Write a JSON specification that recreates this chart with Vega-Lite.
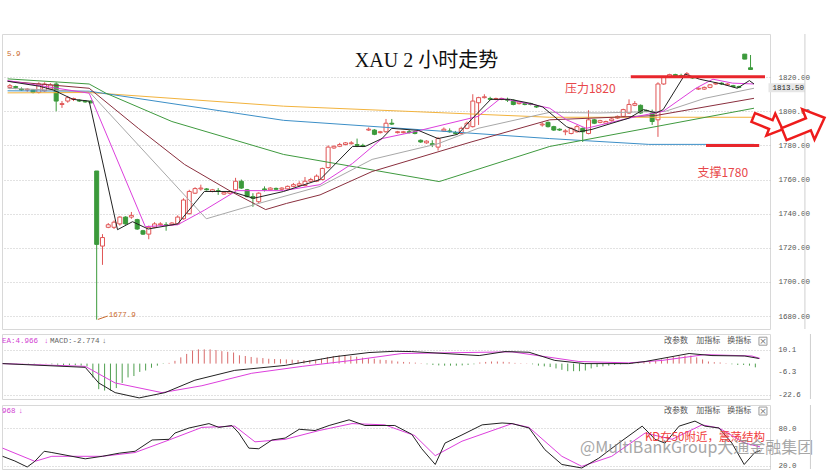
{
"$schema":"https://vega.github.io/schema/vega-lite/v6.json",
"padding":{"left":0,"top":33,"right":0,"bottom":0},
"background":"white",
"spacing":3,
"config":{"view":{"stroke":"#d8d8d8"},"axis":{"domain":false,"ticks":false,"gridDash":[1,2],"gridColor":"#c4c4c4","labelFont":"Liberation Mono","labelFontSize":7.5,"labelColor":"#555","labelPadding":8,"labelOverlap":false,"title":null}},
"datasets":{
"candles":[
{"i":0,"o":1814,"c":1815,"h":1816,"l":1813},{"i":1,"o":1814.5,"c":1814,"h":1815,"l":1813},{"i":2,"o":1813,"c":1812.5,"h":1814,"l":1812},{"i":3,"o":1812.5,"c":1813,"h":1813.5,"l":1811.5},{"i":4,"o":1812.5,"c":1811,"h":1813,"l":1810.5},{"i":5,"o":1811,"c":1816,"h":1817,"l":1810.5},{"i":6,"o":1812,"c":1816,"h":1817,"l":1811.5},{"i":7,"o":1813,"c":1815.5,"h":1816.5,"l":1812.5},{"i":8,"o":1816,"c":1806,"h":1817,"l":1800},{"i":9,"o":1804,"c":1804.5,"h":1806,"l":1802},{"i":10,"o":1806,"c":1808,"h":1809,"l":1805},{"i":11,"o":1807,"c":1807.5,"h":1808,"l":1806},{"i":12,"o":1806.5,"c":1806,"h":1807,"l":1805.5},{"i":13,"o":1806,"c":1805.5,"h":1806.5,"l":1805},{"i":14,"o":1806,"c":1805,"h":1806.5,"l":1804.5},{"i":15,"o":1765,"c":1722,"h":1765,"l":1677.9},{"i":16,"o":1721,"c":1726,"h":1728,"l":1710},{"i":17,"o":1732,"c":1733.5,"h":1734.5,"l":1731.5},{"i":18,"o":1732,"c":1735,"h":1736,"l":1731},{"i":19,"o":1734,"c":1738,"h":1738.5,"l":1733},{"i":20,"o":1738,"c":1734,"h":1738.5,"l":1733.5},{"i":21,"o":1738,"c":1739,"h":1741,"l":1737},{"i":22,"o":1736.5,"c":1731,"h":1737,"l":1730.5},{"i":23,"o":1730,"c":1728,"h":1730.5,"l":1727.5},{"i":24,"o":1728,"c":1732,"h":1733,"l":1725},{"i":25,"o":1732,"c":1734,"h":1735,"l":1731.5},{"i":26,"o":1733.5,"c":1734,"h":1735,"l":1733},{"i":27,"o":1733.5,"c":1733,"h":1735,"l":1730},{"i":28,"o":1733.5,"c":1734.5,"h":1735,"l":1733},{"i":29,"o":1734,"c":1738,"h":1739,"l":1733.5},{"i":30,"o":1737,"c":1748,"h":1749,"l":1736.5},{"i":31,"o":1740,"c":1753,"h":1754,"l":1739.5},{"i":32,"o":1752,"c":1754.7,"h":1755.5,"l":1751.5},{"i":33,"o":1754.5,"c":1755,"h":1757,"l":1753.5},{"i":34,"o":1754.5,"c":1754,"h":1755,"l":1753.5},{"i":35,"o":1753,"c":1754,"h":1754.5,"l":1752.5},{"i":36,"o":1753.5,"c":1753,"h":1755,"l":1751},{"i":37,"o":1751.5,"c":1752.5,"h":1753,"l":1751},{"i":38,"o":1752,"c":1753,"h":1753.5,"l":1751.5},{"i":39,"o":1754,"c":1759,"h":1761,"l":1753.5},{"i":40,"o":1759,"c":1755,"h":1760,"l":1754.5},{"i":41,"o":1754,"c":1750,"h":1754.5,"l":1749.5},{"i":42,"o":1750,"c":1749,"h":1752,"l":1744},{"i":43,"o":1747,"c":1752,"h":1752.5,"l":1746},{"i":44,"o":1754.5,"c":1754,"h":1756,"l":1753},{"i":45,"o":1754,"c":1755,"h":1755.5,"l":1753.5},{"i":46,"o":1754.8,"c":1754.3,"h":1755.3,"l":1754},{"i":47,"o":1754.3,"c":1755,"h":1755.5,"l":1753.8},{"i":48,"o":1754.5,"c":1756,"h":1756.5,"l":1754},{"i":49,"o":1756,"c":1757,"h":1758,"l":1755.5},{"i":50,"o":1756.5,"c":1757.5,"h":1759,"l":1756},{"i":51,"o":1756.5,"c":1759,"h":1761.5,"l":1756},{"i":52,"o":1759,"c":1760,"h":1761,"l":1758.5},{"i":53,"o":1759,"c":1762,"h":1763,"l":1758.5},{"i":54,"o":1760,"c":1766.5,"h":1767,"l":1759.5},{"i":55,"o":1767,"c":1779,"h":1780,"l":1766.5},{"i":56,"o":1778.5,"c":1779.5,"h":1780,"l":1778},{"i":57,"o":1779.5,"c":1780.5,"h":1781.5,"l":1779},{"i":58,"o":1780.5,"c":1781.5,"h":1782,"l":1780},{"i":59,"o":1781,"c":1781.5,"h":1782.5,"l":1780.5},{"i":60,"o":1780.5,"c":1780,"h":1784,"l":1779},{"i":61,"o":1780,"c":1779.5,"h":1781,"l":1779},{"i":62,"o":1789,"c":1789.5,"h":1790.5,"l":1788.5},{"i":63,"o":1789,"c":1786.5,"h":1789.5,"l":1786},{"i":64,"o":1787.5,"c":1788,"h":1788.5,"l":1787},{"i":65,"o":1788,"c":1793,"h":1795.5,"l":1787.5},{"i":66,"o":1793,"c":1792.5,"h":1795.5,"l":1792},{"i":67,"o":1787.5,"c":1788,"h":1788.5,"l":1787},{"i":68,"o":1787.5,"c":1788,"h":1788.5,"l":1787},{"i":69,"o":1788,"c":1787.5,"h":1789,"l":1787},{"i":70,"o":1788,"c":1787,"h":1788.5,"l":1786.5},{"i":71,"o":1783,"c":1782,"h":1783.5,"l":1781.5},{"i":72,"o":1781.5,"c":1782.5,"h":1783,"l":1781},{"i":73,"o":1781,"c":1780.5,"h":1783,"l":1779},{"i":74,"o":1779,"c":1784,"h":1785,"l":1777},{"i":75,"o":1788.5,"c":1789.5,"h":1790.5,"l":1788},{"i":76,"o":1788.5,"c":1788,"h":1790,"l":1787.5},{"i":77,"o":1787.5,"c":1787,"h":1788.5,"l":1786.5},{"i":78,"o":1787,"c":1790,"h":1791,"l":1786.5},{"i":79,"o":1790,"c":1793,"h":1794,"l":1789.5},{"i":80,"o":1791,"c":1806,"h":1810,"l":1790.5},{"i":81,"o":1805,"c":1808,"h":1808.5,"l":1792},{"i":82,"o":1808,"c":1808.5,"h":1810,"l":1807.5},{"i":83,"o":1807.5,"c":1807,"h":1808.5,"l":1806.5},{"i":84,"o":1807,"c":1807.5,"h":1808,"l":1806.5},{"i":85,"o":1807,"c":1807.5,"h":1808,"l":1806.5},{"i":86,"o":1807,"c":1806.5,"h":1808,"l":1805.5},{"i":87,"o":1806.5,"c":1804,"h":1807,"l":1803.5},{"i":88,"o":1804.5,"c":1805.5,"h":1806,"l":1804},{"i":89,"o":1804.5,"c":1804,"h":1805,"l":1803.5},{"i":90,"o":1804.5,"c":1804,"h":1805,"l":1803.5},{"i":91,"o":1803,"c":1802.5,"h":1803.5,"l":1802},{"i":92,"o":1792,"c":1792.5,"h":1793.5,"l":1791},{"i":93,"o":1793.5,"c":1791,"h":1794,"l":1790.5},{"i":94,"o":1791,"c":1789,"h":1791.5,"l":1788.5},{"i":95,"o":1789.5,"c":1789,"h":1790,"l":1788.5},{"i":96,"o":1788,"c":1788.5,"h":1789.5,"l":1786},{"i":97,"o":1787,"c":1790,"h":1790.5,"l":1786.5},{"i":98,"o":1788,"c":1791,"h":1792,"l":1787.5},{"i":99,"o":1790,"c":1788,"h":1790.5,"l":1782},{"i":100,"o":1787,"c":1795,"h":1800.6,"l":1786.5},{"i":101,"o":1795,"c":1793,"h":1795.5,"l":1792.5},{"i":102,"o":1793.5,"c":1794.5,"h":1795,"l":1793},{"i":103,"o":1793,"c":1794,"h":1794.5,"l":1792.5},{"i":104,"o":1794.5,"c":1795.5,"h":1796,"l":1794},{"i":105,"o":1796,"c":1797,"h":1797.5,"l":1795.5},{"i":106,"o":1797,"c":1801,"h":1801.5,"l":1796.5},{"i":107,"o":1799,"c":1804,"h":1807,"l":1798.5},{"i":108,"o":1803.5,"c":1804.5,"h":1806,"l":1803},{"i":109,"o":1803.5,"c":1799,"h":1804,"l":1798.5},{"i":110,"o":1800.5,"c":1800,"h":1801,"l":1799.5},{"i":111,"o":1799,"c":1794,"h":1801,"l":1792},{"i":112,"o":1795,"c":1816,"h":1817,"l":1785},{"i":113,"o":1816,"c":1820,"h":1820.5,"l":1815.5},{"i":114,"o":1820,"c":1821.5,"h":1822,"l":1819.5},{"i":115,"o":1821.5,"c":1820.5,"h":1822,"l":1820},{"i":116,"o":1821,"c":1820.5,"h":1822,"l":1820},{"i":117,"o":1820,"c":1822,"h":1823,"l":1819.5},{"i":118,"o":1820,"c":1819.5,"h":1820.5,"l":1819},{"i":119,"o":1813,"c":1813.5,"h":1814,"l":1812.5},{"i":120,"o":1813,"c":1814,"h":1814.5,"l":1812.5},{"i":121,"o":1814,"c":1815.5,"h":1816,"l":1813.5},{"i":122,"o":1816,"c":1816.5,"h":1817,"l":1815.5},{"i":123,"o":1816.5,"c":1816,"h":1817,"l":1815.5},{"i":124,"o":1815.5,"c":1816,"h":1816.5,"l":1815},{"i":125,"o":1815,"c":1814.5,"h":1815.5,"l":1814},{"i":126,"o":1814.5,"c":1814,"h":1815,"l":1813.5},{"i":127,"o":1833.5,"c":1830.6,"h":1833.5,"l":1830.5},{"i":128,"o":1825.5,"c":1824.5,"h":1833,"l":1824.5}
],
"ma":[
{"s":"mao","i":-0.4,"p":1810.8},{"s":"mao","i":13.7,"p":1811},{"s":"mao","i":47.3,"p":1803},{"s":"mao","i":93.3,"p":1796.5},{"s":"mao","i":128.6,"p":1796.5},
{"s":"mab","i":-0.4,"p":1812},{"s":"mab","i":13.7,"p":1811.8},{"s":"mab","i":47.3,"p":1794.7},{"s":"mab","i":93.3,"p":1784},{"s":"mab","i":110.4,"p":1780.6},{"s":"mab","i":128.6,"p":1780.6},
{"s":"ma60","i":-0.4,"p":1819},{"s":"ma60","i":13.7,"p":1816},{"s":"ma60","i":16.6,"p":1810.6},{"s":"ma60","i":28.0,"p":1794},{"s":"ma60","i":47.3,"p":1774.7},{"s":"ma60","i":74.2,"p":1758.8},{"s":"ma60","i":93.3,"p":1779.4},{"s":"ma60","i":128.6,"p":1801.8},
{"s":"ma30","i":-0.4,"p":1817.6},{"s":"ma30","i":13.7,"p":1813.5},{"s":"ma30","i":22.2,"p":1790},{"s":"ma30","i":30.2,"p":1768.8},{"s":"ma30","i":38.2,"p":1753},{"s":"ma30","i":44.2,"p":1742.4},{"s":"ma30","i":47.8,"p":1746},{"s":"ma30","i":53.6,"p":1751},{"s":"ma30","i":62.6,"p":1764.7},{"s":"ma30","i":79.7,"p":1782},{"s":"ma30","i":93.3,"p":1795},{"s":"ma30","i":111.6,"p":1797.5},{"s":"ma30","i":128.6,"p":1807.6},
{"s":"ma20","i":-0.4,"p":1813.5},{"s":"ma20","i":13.7,"p":1811.5},{"s":"ma20","i":33.95,"p":1737},{"s":"ma20","i":43.0,"p":1746},{"s":"ma20","i":53.6,"p":1756},{"s":"ma20","i":62.6,"p":1771.8},{"s":"ma20","i":74.0,"p":1781},{"s":"ma20","i":80.9,"p":1790},{"s":"ma20","i":93.3,"p":1799.4},{"s":"ma20","i":101.8,"p":1799},{"s":"ma20","i":113.3,"p":1800},{"s":"ma20","i":120.1,"p":1807.6},{"s":"ma20","i":128.6,"p":1813.5},
{"s":"ma10","i":-0.4,"p":1818},{"s":"ma10","i":13.7,"p":1810.6},{"s":"ma10","i":23.4,"p":1732.4},{"s":"ma10","i":29.0,"p":1733.5},{"s":"ma10","i":33.6,"p":1742},{"s":"ma10","i":39.2,"p":1753.5},{"s":"ma10","i":47.3,"p":1753.5},{"s":"ma10","i":53.6,"p":1757},{"s":"ma10","i":59.2,"p":1769.4},{"s":"ma10","i":64.3,"p":1784},{"s":"ma10","i":69.9,"p":1788},{"s":"ma10","i":80.9,"p":1797},{"s":"ma10","i":84.8,"p":1807.6},{"s":"ma10","i":90.4,"p":1804},{"s":"ma10","i":93.3,"p":1801.8},{"s":"ma10","i":96.2,"p":1795},{"s":"ma10","i":99.6,"p":1790},{"s":"ma10","i":107.0,"p":1796},{"s":"ma10","i":112.9,"p":1800},{"s":"ma10","i":118.55,"p":1813.5},{"s":"ma10","i":121.5,"p":1818.8},{"s":"ma10","i":124.9,"p":1816.5},{"s":"ma10","i":128.6,"p":1816},
{"s":"ma5","i":-0.4,"p":1817.6},{"s":"ma5","i":5.1,"p":1814.7},{"s":"ma5","i":7.5,"p":1812.5},{"s":"ma5","i":10.9,"p":1807},{"s":"ma5","i":13.7,"p":1806},{"s":"ma5","i":18.6,"p":1730.6},{"s":"ma5","i":21.2,"p":1735.3},{"s":"ma5","i":23.9,"p":1731},{"s":"ma5","i":29.0,"p":1734},{"s":"ma5","i":33.6,"p":1753},{"s":"ma5","i":38.2,"p":1753},{"s":"ma5","i":42.1,"p":1749},{"s":"ma5","i":47.3,"p":1753},{"s":"ma5","i":53.6,"p":1760},{"s":"ma5","i":59.2,"p":1779.4},{"s":"ma5","i":61.4,"p":1779.4},{"s":"ma5","i":64.3,"p":1784},{"s":"ma5","i":66.0,"p":1790},{"s":"ma5","i":70.6,"p":1788.8},{"s":"ma5","i":74.0,"p":1784},{"s":"ma5","i":77.4,"p":1786.5},{"s":"ma5","i":79.7,"p":1795},{"s":"ma5","i":83.1,"p":1807},{"s":"ma5","i":86.5,"p":1807},{"s":"ma5","i":89.9,"p":1804.7},{"s":"ma5","i":92.1,"p":1802.5},{"s":"ma5","i":96.2,"p":1791},{"s":"ma5","i":98.4,"p":1788},{"s":"ma5","i":100.6,"p":1789.4},{"s":"ma5","i":104.05,"p":1793},{"s":"ma5","i":107.0,"p":1796},{"s":"ma5","i":109.5,"p":1801},{"s":"ma5","i":111.7,"p":1799},{"s":"ma5","i":112.9,"p":1801},{"s":"ma5","i":116.7,"p":1821.8},{"s":"ma5","i":119.2,"p":1818.8},{"s":"ma5","i":123.2,"p":1815.9},{"s":"ma5","i":125.7,"p":1813.5},{"s":"ma5","i":127.8,"p":1818},{"s":"ma5","i":128.6,"p":1816}
],
"hist":[
{"i":0,"v":0.2},{"i":1,"v":0.2},{"i":2,"v":0.1},{"i":3,"v":0.1},{"i":4,"v":-0.2},{"i":5,"v":-0.2},{"i":6,"v":0.1},{"i":7,"v":0.2},{"i":8,"v":-0.5},{"i":9,"v":-0.8},{"i":10,"v":-1},{"i":11,"v":-1},{"i":12,"v":-1.2},{"i":13,"v":-1.5},{"i":14,"v":-2},{"i":15,"v":-10},{"i":16,"v":-18.5},{"i":17,"v":-19.5},{"i":18,"v":-19.5},{"i":19,"v":-17.7},{"i":20,"v":-14},{"i":21,"v":-10},{"i":22,"v":-9},{"i":23,"v":-6},{"i":24,"v":-5},{"i":25,"v":-3},{"i":26,"v":-1.5},{"i":27,"v":-0.3},{"i":28,"v":0.5},{"i":29,"v":2},{"i":30,"v":4.5},{"i":31,"v":7},{"i":32,"v":9.5},{"i":33,"v":10.3},{"i":34,"v":10.3},{"i":35,"v":10.3},{"i":36,"v":9.8},{"i":37,"v":9},{"i":38,"v":8.5},{"i":39,"v":8},{"i":40,"v":6},{"i":41,"v":5.5},{"i":42,"v":4.8},{"i":43,"v":4.3},{"i":44,"v":4},{"i":45,"v":3.5},{"i":46,"v":3.3},{"i":47,"v":3.2},{"i":48,"v":3},{"i":49,"v":2.8},{"i":50,"v":2.6},{"i":51,"v":2.5},{"i":52,"v":2.5},{"i":53,"v":2.7},{"i":54,"v":3.5},{"i":55,"v":4.8},{"i":56,"v":5.5},{"i":57,"v":6},{"i":58,"v":6},{"i":59,"v":5.5},{"i":60,"v":5},{"i":61,"v":4.3},{"i":62,"v":3.8},{"i":63,"v":3.5},{"i":64,"v":2.8},{"i":65,"v":2.6},{"i":66,"v":2.2},{"i":67,"v":1.5},{"i":68,"v":1.2},{"i":69,"v":0.9},{"i":70,"v":0.7},{"i":71,"v":0.3},{"i":72,"v":-0.5},{"i":73,"v":-1},{"i":74,"v":-1.3},{"i":75,"v":-1.5},{"i":76,"v":-1.5},{"i":77,"v":-1.5},{"i":78,"v":-1.3},{"i":79,"v":-1},{"i":80,"v":-0.5},{"i":81,"v":0.8},{"i":82,"v":1.2},{"i":83,"v":1.5},{"i":84,"v":1.5},{"i":85,"v":1.3},{"i":86,"v":1},{"i":87,"v":0.5},{"i":88,"v":0.3},{"i":89,"v":0.2},{"i":90,"v":-0.5},{"i":91,"v":-1.5},{"i":92,"v":-2},{"i":93,"v":-2.5},{"i":94,"v":-3.5},{"i":95,"v":-4.5},{"i":96,"v":-5.5},{"i":97,"v":-5.5},{"i":98,"v":-5.5},{"i":99,"v":-5},{"i":100,"v":-3.5},{"i":101,"v":-2.5},{"i":102,"v":-2},{"i":103,"v":-1.5},{"i":104,"v":-1},{"i":105,"v":-0.5},{"i":106,"v":0.3},{"i":107,"v":0.5},{"i":108,"v":0.8},{"i":109,"v":1},{"i":110,"v":1.5},{"i":111,"v":2},{"i":112,"v":3},{"i":113,"v":4},{"i":114,"v":4.8},{"i":115,"v":5.3},{"i":116,"v":5.8},{"i":117,"v":5.8},{"i":118,"v":4.5},{"i":119,"v":3},{"i":120,"v":1.5},{"i":121,"v":1},{"i":122,"v":0.8},{"i":123,"v":0.3},{"i":124,"v":-0.5},{"i":125,"v":-1},{"i":126,"v":-1},{"i":127,"v":-1.5},{"i":128,"v":-2.7}
],
"macd":[
{"s":"DEA","i":-0.4,"v":0},{"s":"DEA","i":13.7,"v":-2},{"s":"DEA","i":18.8,"v":-14},{"s":"DEA","i":26.8,"v":-21},{"s":"DEA","i":33.6,"v":-16},{"s":"DEA","i":42.1,"v":-7},{"s":"DEA","i":50.7,"v":-2},{"s":"DEA","i":59.2,"v":2.3},{"s":"DEA","i":67.7,"v":7.3},{"s":"DEA","i":86.5,"v":8.5},{"s":"DEA","i":97.9,"v":1.5},{"s":"DEA","i":106.4,"v":0.5},{"s":"DEA","i":112.1,"v":2.3},{"s":"DEA","i":119.4,"v":6.5},{"s":"DEA","i":127.4,"v":5.5},{"s":"DEA","i":128.8,"v":3.7},
{"s":"DIF","i":-0.4,"v":0},{"s":"DIF","i":13.7,"v":-2.7},{"s":"DIF","i":16.0,"v":-14},{"s":"DIF","i":18.8,"v":-21},{"s":"DIF","i":22.9,"v":-24.8},{"s":"DIF","i":27.3,"v":-21},{"s":"DIF","i":32.4,"v":-12},{"s":"DIF","i":39.2,"v":-4.9},{"s":"DIF","i":47.8,"v":-1.3},{"s":"DIF","i":56.3,"v":5},{"s":"DIF","i":62.1,"v":8},{"s":"DIF","i":66.5,"v":8.9},{"s":"DIF","i":69.4,"v":8.7},{"s":"DIF","i":80.9,"v":5.8},{"s":"DIF","i":85.3,"v":8.7},{"s":"DIF","i":89.4,"v":8.2},{"s":"DIF","i":93.8,"v":2.3},{"s":"DIF","i":98.9,"v":0},{"s":"DIF","i":106.4,"v":0},{"s":"DIF","i":109.2,"v":1.5},{"s":"DIF","i":116.7,"v":7.3},{"s":"DIF","i":120.6,"v":5.8},{"s":"DIF","i":126.2,"v":5.5},{"s":"DIF","i":128.6,"v":3.7}
],
"kd":[
{"s":"D","i":-0.4,"v":48},{"s":"D","i":5.1,"v":27},{"s":"D","i":8.0,"v":35},{"s":"D","i":16.6,"v":35},{"s":"D","i":22.2,"v":41},{"s":"D","i":28.0,"v":61},{"s":"D","i":33.6,"v":81},{"s":"D","i":39.2,"v":83},{"s":"D","i":42.65,"v":58},{"s":"D","i":47.8,"v":62},{"s":"D","i":53.6,"v":76},{"s":"D","i":59.2,"v":87},{"s":"D","i":64.8,"v":85},{"s":"D","i":69.9,"v":68},{"s":"D","i":73.4,"v":36},{"s":"D","i":77.96,"v":59},{"s":"D","i":86.5,"v":87},{"s":"D","i":89.4,"v":81},{"s":"D","i":95.0,"v":35},{"s":"D","i":98.4,"v":19},{"s":"D","i":103.5,"v":35},{"s":"D","i":109.2,"v":72},{"s":"D","i":113.8,"v":62},{"s":"D","i":118.9,"v":85},{"s":"D","i":121.8,"v":80},{"s":"D","i":126.2,"v":56},{"s":"D","i":128.8,"v":50},
{"s":"K","i":-0.4,"v":35},{"s":"K","i":1.7,"v":27.5},{"s":"K","i":3.8,"v":18},{"s":"K","i":5.1,"v":27},{"s":"K","i":6.7,"v":43},{"s":"K","i":8.0,"v":41},{"s":"K","i":13.7,"v":31},{"s":"K","i":16.6,"v":35},{"s":"K","i":19.5,"v":40},{"s":"K","i":22.2,"v":43},{"s":"K","i":25.1,"v":61},{"s":"K","i":28.0,"v":62},{"s":"K","i":29.0,"v":72},{"s":"K","i":31.4,"v":80},{"s":"K","i":34.8,"v":87},{"s":"K","i":36.5,"v":81},{"s":"K","i":38.7,"v":84},{"s":"K","i":39.9,"v":72},{"s":"K","i":41.6,"v":48},{"s":"K","i":43.3,"v":47},{"s":"K","i":45.55,"v":61},{"s":"K","i":47.8,"v":64},{"s":"K","i":50.2,"v":78},{"s":"K","i":52.9,"v":76},{"s":"K","i":55.3,"v":84},{"s":"K","i":58.7,"v":93},{"s":"K","i":61.4,"v":84},{"s":"K","i":66.5,"v":84},{"s":"K","i":69.4,"v":70},{"s":"K","i":71.1,"v":47},{"s":"K","i":73.4,"v":22},{"s":"K","i":75.06,"v":56},{"s":"K","i":77.96,"v":69},{"s":"K","i":81.4,"v":85},{"s":"K","i":84.8,"v":88},{"s":"K","i":86.5,"v":87},{"s":"K","i":89.4,"v":80},{"s":"K","i":92.1,"v":45.5},{"s":"K","i":95.0,"v":22},{"s":"K","i":98.4,"v":16.4},{"s":"K","i":101.3,"v":32},{"s":"K","i":104.7,"v":56},{"s":"K","i":108.7,"v":83},{"s":"K","i":110.9,"v":62},{"s":"K","i":112.6,"v":56},{"s":"K","i":115.0,"v":83},{"s":"K","i":117.7,"v":91},{"s":"K","i":119.4,"v":83},{"s":"K","i":121.8,"v":80},{"s":"K","i":124.0,"v":56},{"s":"K","i":126.1,"v":22},{"s":"K","i":127.9,"v":41},{"s":"K","i":128.8,"v":44}
],
"macdticks":[{"i":131.9,"v":10.1,"t":"10.1"},{"i":131.9,"v":-6.3,"t":"-6.3"},{"i":131.9,"v":-22.6,"t":"-22.6"}],
"edge":[{"i":137.4}]
},
"vconcat":[
{
"width":768,"height":295,
"encoding":{"x":{"field":"i","type":"quantitative","scale":{"domain":[-0.5,130.5],"nice":false,"zero":false},"axis":null}},
"layer":[
{"data":{"name":"candles"},"mark":{"type":"rule","strokeWidth":1},
 "encoding":{"y":{"field":"l","type":"quantitative","scale":{"domain":[1672.4,1845.3],"nice":false,"zero":false},"axis":{"orient":"right","values":[1680,1700,1720,1740,1760,1780,1800,1820],"format":".2f","grid":true,"labelOverlap":false}},"y2":{"field":"h"},
 "color":{"condition":{"test":"datum.c>=datum.o","value":"#e05555"},"value":"#3b9a3b"}}},
{"data":{"name":"candles"},"mark":{"type":"bar","size":4,"strokeWidth":1},
 "encoding":{"y":{"field":"o","type":"quantitative","scale":{"domain":[1672.4,1845.3],"nice":false,"zero":false}},"y2":{"field":"c"},
 "fill":{"condition":{"test":"datum.c>=datum.o","value":"#ffffff"},"value":"#3b9a3b"},
 "stroke":{"condition":{"test":"datum.c>=datum.o","value":"#e05555"},"value":"#3b9a3b"}}},
{"data":{"name":"ma"},"mark":{"type":"line","strokeWidth":1},
 "encoding":{"y":{"field":"p","type":"quantitative","scale":{"domain":[1672.4,1845.3],"nice":false,"zero":false}},
 "detail":{"field":"s"},
 "color":{"field":"s","type":"nominal","legend":null,"scale":{"domain":["mao","mab","ma60","ma30","ma20","ma10","ma5","DEA","DIF","D","K","m","g"],"range":["#f2b33d","#3c8fc7","#3f9a3f","#8a2f3e","#a8a8a8","#dd3fdd","#222222","#dd3fdd","#222222","#dd3fdd","#222222","#d23fd2","#666666"]}}}},
{"data":{"values":[{"i":107.3,"i2":130.5,"p":1820.2},{"i":120.3,"i2":129.5,"p":1780}]},"mark":{"type":"rule","strokeWidth":3,"color":"#e8262c"},
 "encoding":{"x2":{"field":"i2"},"y":{"field":"p","type":"quantitative","scale":{"domain":[1672.4,1845.3],"nice":false,"zero":false}}}},
{"data":{"values":[{"i":72,"p":1829.4,"t":"XAU 2 小时走势"}]},"mark":{"type":"text","fontSize":20,"font":"Liberation Serif, Noto Sans CJK SC","color":"#111","align":"center","baseline":"middle"},
 "encoding":{"y":{"field":"p","type":"quantitative","scale":{"domain":[1672.4,1845.3],"nice":false,"zero":false}},"text":{"field":"t"}}},
{"data":{"values":[{"i":100.3,"p":1813,"t":"压力1820"},{"i":123.2,"p":1764.1,"t":"支撑1780"}]},"mark":{"type":"text","fontSize":12,"font":"Noto Sans CJK SC","color":"#e8474a","align":"center","baseline":"middle"},
 "encoding":{"y":{"field":"p","type":"quantitative","scale":{"domain":[1672.4,1845.3],"nice":false,"zero":false}},"text":{"field":"t"}}},
{"data":{"values":[{"i":-0.5,"p":1833.5,"t":"5.9"},{"i":17.1,"p":1680.4,"t":"1677.9"}]},"mark":{"type":"text","fontSize":7.5,"font":"Liberation Mono","color":"#c9692c","align":"left","baseline":"middle"},
 "encoding":{"y":{"field":"p","type":"quantitative","scale":{"domain":[1672.4,1845.3],"nice":false,"zero":false}},"text":{"field":"t"}}},
{"data":{"values":[{"i":15.2,"i2":16.9,"p":1678,"p2":1680}]},"mark":{"type":"rule","strokeWidth":1,"color":"#c9692c"},
 "encoding":{"x2":{"field":"i2"},"y":{"field":"p","type":"quantitative","scale":{"domain":[1672.4,1845.3],"nice":false,"zero":false}},"y2":{"field":"p2"}}},
{"data":{"values":[{"i":131.1,"i2":137.4,"p":1811.2,"p2":1816.4}]},"mark":{"type":"rect","color":"#e6e6e6"},
 "encoding":{"x2":{"field":"i2"},"y":{"field":"p","type":"quantitative","scale":{"domain":[1672.4,1845.3],"nice":false,"zero":false}},"y2":{"field":"p2"}}},
{"data":{"values":[{"i":131.8,"p":1813.8,"t":"1813.50"}]},"mark":{"type":"text","fontSize":7.5,"font":"Liberation Mono","color":"#222","align":"left","baseline":"middle"},
 "encoding":{"y":{"field":"p","type":"quantitative","scale":{"domain":[1672.4,1845.3],"nice":false,"zero":false}},"text":{"field":"t"}}},
{"data":{"name":"edge"},"mark":{"type":"rule","color":"#cfcfcf"},"encoding":{}},
{"data":{"values":[{"i":131.0,"p":1792.9}]},"mark":{"type":"point","shape":"M-1,-0.3L0.2,-0.3L0.2,-0.75L1,0L0.2,0.75L0.2,0.3L-1,0.3Z","size":1000,"filled":true,"fill":"white","stroke":"#ee1c1c","strokeWidth":2.5,"opacity":1,"angle":22},
 "encoding":{"y":{"field":"p","type":"quantitative","scale":{"domain":[1672.4,1845.3],"nice":false,"zero":false}}}},
{"data":{"values":[{"i":137.3,"p":1791.4}]},"mark":{"type":"point","shape":"M-1,-0.3L0.2,-0.3L0.2,-0.75L1,0L0.2,0.75L0.2,0.3L-1,0.3Z","size":1900,"filled":true,"fill":"white","stroke":"#ee1c1c","strokeWidth":2.5,"opacity":1,"angle":-22},
 "encoding":{"y":{"field":"p","type":"quantitative","scale":{"domain":[1672.4,1845.3],"nice":false,"zero":false}}}}
]
},
{
"width":768,"height":65,
"encoding":{"x":{"field":"i","type":"quantitative","scale":{"domain":[-0.5,130.5],"nice":false,"zero":false},"axis":null}},
"layer":[
{"data":{"name":"hist"},"mark":{"type":"rule","strokeWidth":1},
 "encoding":{"y":{"field":"v","type":"quantitative","scale":{"domain":[-25.6,21.4],"nice":false,"zero":false},"axis":{"orient":"right","values":[10.1,-6.3,-22.6],"grid":true,"labels":false}},"y2":{"datum":0},
 "color":{"condition":{"test":"datum.v>=0","value":"#d86a6a"},"value":"#4f9f4f"}}},
{"data":{"name":"macdticks"},"mark":{"type":"text","fontSize":7.5,"font":"Liberation Mono","align":"left","baseline":"middle","color":"#555"},
 "encoding":{"y":{"field":"v","type":"quantitative","scale":{"domain":[-25.6,21.4],"nice":false,"zero":false}},"text":{"field":"t"}}},
{"data":{"name":"macd"},"mark":{"type":"line","strokeWidth":1},
 "encoding":{"y":{"field":"v","type":"quantitative","scale":{"domain":[-25.6,21.4],"nice":false,"zero":false}},
 "color":{"field":"s","type":"nominal","legend":null,"scale":{"domain":["mao","mab","ma60","ma30","ma20","ma10","ma5","DEA","DIF","D","K","m","g"],"range":["#f2b33d","#3c8fc7","#3f9a3f","#8a2f3e","#a8a8a8","#dd3fdd","#222222","#dd3fdd","#222222","#dd3fdd","#222222","#d23fd2","#666666"]}}}},
{"data":{"values":[{"i":-0.5,"v":16.2,"t":"EA:4.966","k":"m"},{"i":6.66,"v":16.2,"t":"↓","k":"m"},{"i":7.7,"v":16.2,"t":"MACD:-2.774","k":"g"},{"i":16.56,"v":16.2,"t":"↓","k":"g"}]},
 "mark":{"type":"text","fontSize":7.5,"font":"Liberation Mono","align":"left","baseline":"middle"},
 "encoding":{"y":{"field":"v","type":"quantitative","scale":{"domain":[-25.6,21.4],"nice":false,"zero":false}},"text":{"field":"t"},
 "color":{"field":"k","type":"nominal","legend":null,"scale":{"domain":["mao","mab","ma60","ma30","ma20","ma10","ma5","DEA","DIF","D","K","m","g"],"range":["#f2b33d","#3c8fc7","#3f9a3f","#8a2f3e","#a8a8a8","#dd3fdd","#222222","#dd3fdd","#222222","#dd3fdd","#222222","#d23fd2","#666666"]}}}},
{"data":{"values":[{"i":112.4,"v":16.2,"t":"改参数"},{"i":117.9,"v":16.2,"t":"加指标"},{"i":123.2,"v":16.2,"t":"换指标"}]},
 "mark":{"type":"text","fontSize":8,"font":"Noto Sans CJK SC","align":"left","baseline":"middle","color":"#555"},
 "encoding":{"y":{"field":"v","type":"quantitative","scale":{"domain":[-25.6,21.4],"nice":false,"zero":false}},"text":{"field":"t"}}},
{"data":{"values":[{"i":129.3,"v":16.2}]},"mark":{"type":"point","shape":"square","size":64,"filled":false,"color":"#9a9a9a","strokeWidth":1,"opacity":1},
 "encoding":{"y":{"field":"v","type":"quantitative","scale":{"domain":[-25.6,21.4],"nice":false,"zero":false}}}},
{"data":{"values":[{"i":129.3,"v":16.2,"t":"×"}]},"mark":{"type":"text","fontSize":9,"font":"DejaVu Sans","align":"center","baseline":"middle","color":"#777"},
 "encoding":{"y":{"field":"v","type":"quantitative","scale":{"domain":[-25.6,21.4],"nice":false,"zero":false}},"text":{"field":"t"}}},
{"data":{"name":"edge"},"mark":{"type":"rule","color":"#cfcfcf"},"encoding":{}}
]
},
{
"width":768,"height":64,
"encoding":{"x":{"field":"i","type":"quantitative","scale":{"domain":[-0.5,130.5],"nice":false,"zero":false},"axis":null}},
"layer":[
{"data":{"name":"kd"},"mark":{"type":"line","strokeWidth":1},
 "encoding":{"y":{"field":"v","type":"quantitative","scale":{"domain":[14.8,116.6],"nice":false,"zero":false},"axis":{"orient":"right","values":[20,50,80],"grid":true,"labelOverlap":false,"labelExpr":"datum.value == 50 ? '' : format(datum.value, '.1f')"}},
 "color":{"field":"s","type":"nominal","legend":null,"scale":{"domain":["mao","mab","ma60","ma30","ma20","ma10","ma5","DEA","DIF","D","K","m","g"],"range":["#f2b33d","#3c8fc7","#3f9a3f","#8a2f3e","#a8a8a8","#dd3fdd","#222222","#dd3fdd","#222222","#dd3fdd","#222222","#d23fd2","#666666"]}}}},
{"data":{"values":[{"i":-0.5,"v":107,"t":"968"},{"i":2.3,"v":107,"t":"↓"}]},
 "mark":{"type":"text","fontSize":7.5,"font":"Liberation Mono","align":"left","baseline":"middle","color":"#d23fd2"},
 "encoding":{"y":{"field":"v","type":"quantitative","scale":{"domain":[14.8,116.6],"nice":false,"zero":false}},"text":{"field":"t"}}},
{"data":{"values":[{"i":112.4,"v":107,"t":"改参数"},{"i":117.9,"v":107,"t":"加指标"},{"i":123.2,"v":107,"t":"换指标"}]},
 "mark":{"type":"text","fontSize":8,"font":"Noto Sans CJK SC","align":"left","baseline":"middle","color":"#555"},
 "encoding":{"y":{"field":"v","type":"quantitative","scale":{"domain":[14.8,116.6],"nice":false,"zero":false}},"text":{"field":"t"}}},
{"data":{"values":[{"i":129.3,"v":107}]},"mark":{"type":"point","shape":"square","size":64,"filled":false,"color":"#9a9a9a","strokeWidth":1,"opacity":1},
 "encoding":{"y":{"field":"v","type":"quantitative","scale":{"domain":[14.8,116.6],"nice":false,"zero":false}}}},
{"data":{"values":[{"i":129.3,"v":107,"t":"×"}]},"mark":{"type":"text","fontSize":9,"font":"DejaVu Sans","align":"center","baseline":"middle","color":"#777"},
 "encoding":{"y":{"field":"v","type":"quantitative","scale":{"domain":[14.8,116.6],"nice":false,"zero":false}},"text":{"field":"t"}}},
{"data":{"values":[{"i":119.4,"v":64,"t":"KD在50附近，震荡结构"}]},"mark":{"type":"text","fontSize":11.5,"font":"Noto Sans CJK SC","align":"center","baseline":"middle","color":"#f03c3c"},
 "encoding":{"y":{"field":"v","type":"quantitative","scale":{"domain":[14.8,116.6],"nice":false,"zero":false}},"text":{"field":"t"}}},
{"data":{"values":[{"i":98.1,"v":48,"t":"@MultiBankGroup大通金融集团"}]},"mark":{"type":"text","fontSize":16,"font":"Noto Sans CJK SC","align":"left","baseline":"middle","color":"#8a8a8a","opacity":0.75},
 "encoding":{"y":{"field":"v","type":"quantitative","scale":{"domain":[14.8,116.6],"nice":false,"zero":false}},"text":{"field":"t"}}},
{"data":{"name":"edge"},"mark":{"type":"rule","color":"#cfcfcf"},"encoding":{}}
]
}
]
}
